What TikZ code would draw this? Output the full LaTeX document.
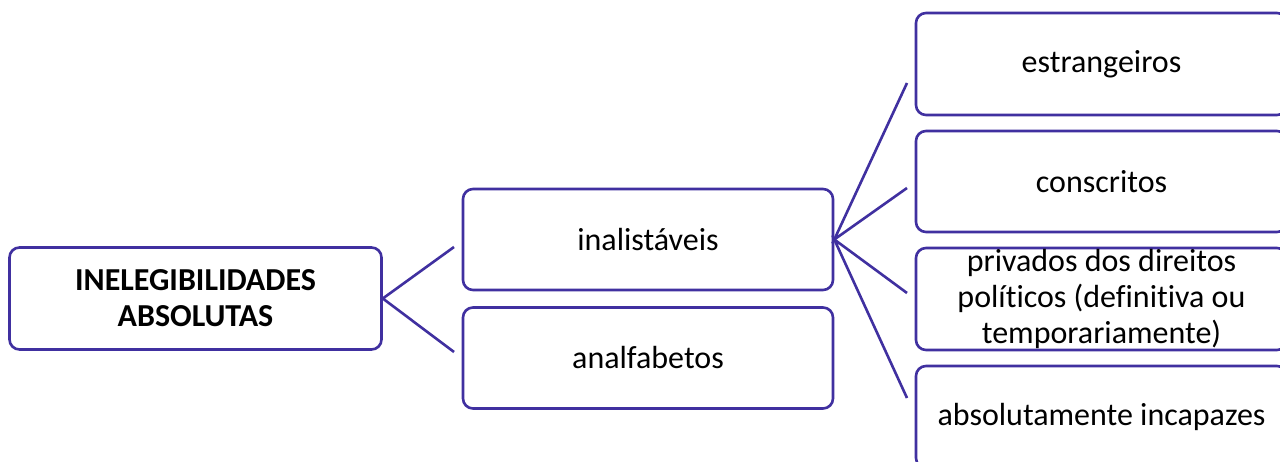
\documentclass[tikz,border=0pt]{standalone}
\usepackage{fontspec}
\setmainfont[Ligatures=NoCommon]{Carlito}
\definecolor{edge}{RGB}{64,48,160}
\begin{document}
\begin{tikzpicture}[x=1pt,y=-1pt,
  box/.style={draw=edge,line width=2.6pt,rounded corners=10pt,fill=white,align=center,
    font=\fontsize{32}{36}\selectfont,inner sep=0pt},
  conn/.style={draw=edge,line width=2.6pt}]
\clip (0,0) rectangle (1280,462);
\fill[white] (0,0) rectangle (1280,462);
\node[box,minimum width=372pt,minimum height=102pt,font=\bfseries\fontsize{32}{36}\selectfont] (root) at (195.5,298.5) {INELEGIBILIDADES\\ABSOLUTAS};
\node[box,minimum width=370pt,minimum height=101pt] (inal) at (648,239.5) {inalistáveis};
\node[box,minimum width=370pt,minimum height=101pt] (anal) at (648,358) {analfabetos};
\node[box,minimum width=371pt,minimum height=102pt] (estr) at (1101.5,64) {estrangeiros};
\node[box,minimum width=371pt,minimum height=101pt] (cons) at (1101.5,181.5) {conscritos};
\node[box,minimum width=371pt,minimum height=102pt] (priv) at (1101.5,299) {privados dos direitos\\políticos (definitiva ou\\temporariamente)};
\node[box,minimum width=371pt,minimum height=102pt] (abso) at (1101.5,417) {absolutamente incapazes};
\coordinate (c1) at (454,247);
\coordinate (c2) at (454,352);
\coordinate (d1) at (907,83);
\coordinate (d2) at (907,188);
\coordinate (d3) at (907,293);
\coordinate (d4) at (907,398);
\draw[conn] (c1) -- (root.east) -- (c2);
\draw[conn] (d1) -- (inal.east) -- (d2);
\draw[conn] (d3) -- (inal.east) -- (d4);
\end{tikzpicture}
\end{document}
